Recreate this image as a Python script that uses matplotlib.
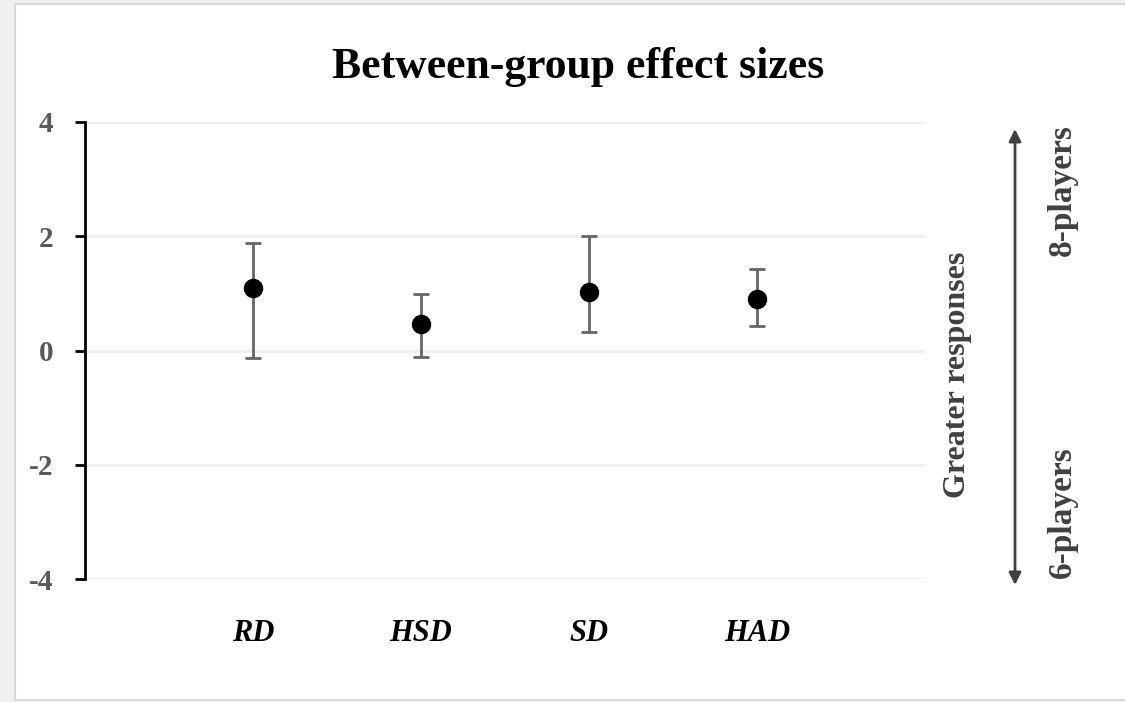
import matplotlib
matplotlib.use("Agg")
import matplotlib.pyplot as plt
from matplotlib.patches import Rectangle

categories = ["RD", "HSD", "SD", "HAD"]
effect = [1.09, 0.47, 1.03, 0.91]
ci_low = [-0.14, -0.12, 0.32, 0.43]
ci_high = [1.88, 0.99, 2.00, 1.43]
yticks = [-4, -2, 0, 2, 4]

plt.rcParams['font.family'] = ['Liberation Serif', 'DejaVu Serif']

W, H = 1125, 702
fig = plt.figure(figsize=(W / 100, H / 100), dpi=100)
fig.patch.set_facecolor('#f0f0f0')
fig.add_artist(Rectangle((15 / W, 2 / H), (W + 5 - 15) / W, (700 - 4) / H,
                         transform=fig.transFigure, facecolor='white',
                         edgecolor='#d9d9d9', linewidth=1.5, zorder=0))

ax = fig.add_axes([85 / W, 1 - 579 / H, (925 - 85) / W, (579 - 122) / H])
ax.set_facecolor('none')

x = list(range(len(categories)))
yerr = [[e - l for e, l in zip(effect, ci_low)], [h - e for e, h in zip(effect, ci_high)]]
ax.errorbar(x, effect, yerr=yerr, fmt='o', color='black', markersize=13,
            ecolor='#666666', elinewidth=2, capsize=5.5, capthick=2, zorder=3)

ax.set_xlim(-1, 4)
ax.set_ylim(-4, 4)
ax.set_yticks(yticks)
ax.set_yticklabels([str(v) for v in yticks], fontsize=21, fontweight='bold', color='#595959')
ax.set_xticks(x)
ax.set_xticklabels(categories, fontsize=22, fontweight='bold', fontstyle='italic', color='black')
ax.tick_params(axis='x', length=0, pad=29)
ax.tick_params(axis='y', length=7, width=2, color='black', pad=16, direction='out')
ax.grid(axis='y', color='#efefef', linewidth=2)
ax.set_axisbelow(True)
for s in ['top', 'right', 'bottom']:
    ax.spines[s].set_visible(False)
ax.spines['left'].set_linewidth(2)
ax.spines['left'].set_color('black')

fig.text(578 / W, 1 - 67 / H, "Between-group effect sizes", ha='center', va='center',
         fontsize=31.5, fontweight='bold')

# side annotation arrow
ax.annotate('', xy=(1015 / W, 1 - 129 / H), xytext=(1015 / W, 1 - 585 / H),
            xycoords='figure fraction', textcoords='figure fraction',
            arrowprops=dict(arrowstyle='<|-|>', color='#404040', lw=2,
                            mutation_scale=18, shrinkA=0, shrinkB=0))
fig.text(958 / W, 1 - 375 / H, "Greater responses", rotation=90, ha='center', va='center',
         fontsize=23, fontweight='bold', color='#404040')
fig.text(1062 / W, 1 - 190 / H, "8-players", rotation=90, ha='center', va='center',
         fontsize=24, fontweight='bold', color='#404040')
fig.text(1062 / W, 1 - 512 / H, "6-players", rotation=90, ha='center', va='center',
         fontsize=24, fontweight='bold', color='#404040')

fig.savefig('out.png', dpi=100, facecolor=fig.get_facecolor())
